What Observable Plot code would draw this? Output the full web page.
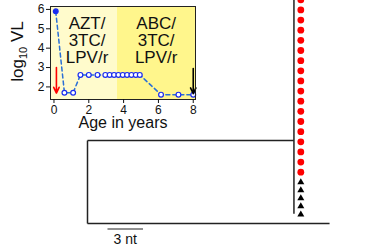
<!DOCTYPE html>
<html>
<head>
<meta charset="utf-8">
<script src="https://cdn.jsdelivr.net/npm/d3@7"></script>
<script src="https://cdn.jsdelivr.net/npm/@observablehq/plot@0.6"></script>
<style>
  html, body { margin: 0; padding: 0; background: white; }
  #wrap { position: relative; width: 372px; height: 250px; overflow: hidden; }
  #wrap > svg { position: absolute; left: 0; top: 0; }
</style>
</head>
<body>
<div id="wrap"></div>
<script>
// ---- Inset: viral load over time ----
const ageYears = [0.1, 0.6, 1.1, 1.52, 2.0, 2.5, 2.95, 3.2, 3.45, 3.7, 3.95, 4.2, 4.45, 4.7, 4.93, 6.15, 7.15, 8.0];
const log10VL  = [5.9, 1.7, 1.7, 2.62, 2.62, 2.62, 2.62, 2.62, 2.62, 2.62, 2.62, 2.62, 2.62, 2.62, 2.62, 1.6, 1.6, 1.6];
const regimenLabels = ["AZT/\n3TC/\nLPV/r", "ABC/\n3TC/\nLPV/r"];
const regimenStart  = [-0.2, 3.65];
const regimenEnd    = [3.65, 8.13];
const regimenColors = ["#fffbcc", "#fff68c"];
const regimenLabelX = [1.9, 5.87];
const regimenLabelY = [4.39, 4.39];
const arrowX    = [0.14, 8.0];
const arrowFrom = [3.0, 2.95];
const arrowTo   = [1.68, 1.65];
const arrowColors = ["#ff0000", "#000000"];
const xTicks = [0, 2, 4, 6, 8];
const yTicks = [2, 3, 4, 5, 6];

// ---- Tree ----
const redTipRows   = [0,1,2,3,4,5,6,7,8,9,10,11,12,13,14,15,16,17];
const blackTipRows = [18.0, 18.78, 19.56, 20.36, 21.17];
const rootX = 0, cladeX = 17.45, outgroupX = 20.46, tipX = 18.03; // nt
const cladeRow = 13.88, outgroupRow = 22.06, cladeTopRow = -1, cladeBottomRow = 21.1;
const scaleBarStart = 1.69, scaleBarLength = 3, scaleBarRow = 22.6, scaleLabelRow = 23.6;
const scaleLabel = "3 nt";

const font = "'Liberation Sans', Arial, Helvetica, sans-serif";

const vl = ageYears.map((a, i) => ({age: a, vl: log10VL[i], first: i === 0}));
const regimens = regimenLabels.map((l, i) => ({label: l, x1: regimenStart[i], x2: regimenEnd[i], fill: regimenColors[i], lx: regimenLabelX[i], ly: regimenLabelY[i]}));
const arrows = arrowX.map((x, i) => ({x, y1: arrowFrom[i], y2: arrowTo[i], c: arrowColors[i]}));

const branches = [
  {x1: rootX, y1: cladeRow, x2: cladeX, y2: cladeRow},
  {x1: rootX, y1: outgroupRow, x2: outgroupX, y2: outgroupRow},
  {x1: rootX, y1: cladeRow, x2: rootX, y2: outgroupRow},
  {x1: cladeX, y1: cladeTopRow, x2: cladeX, y2: cladeBottomRow}
];

const tree = Plot.plot({
  width: 372, height: 250,
  marginLeft: 0, marginRight: 0, marginTop: 0, marginBottom: 0,
  style: {fontFamily: font, background: "white"},
  x: {domain: [-7.354, 24.09], axis: null},
  y: {domain: [0.069, 24.72], reverse: true, axis: null},
  marks: [
    Plot.link(branches, {x1: "x1", y1: "y1", x2: "x2", y2: "y2", stroke: "#222", strokeWidth: 1.5}),
    Plot.dot(redTipRows, {x: () => tipX, y: d => d, r: 3.4, fill: "#ff0000", stroke: "none"}),
    Plot.dot(blackTipRows, {x: () => tipX, y: d => d, r: 2.6, symbol: "triangle", fill: "#000", stroke: "none"}),
    Plot.link([0], {x1: () => scaleBarStart, x2: () => scaleBarStart + scaleBarLength, y1: () => scaleBarRow, y2: () => scaleBarRow, stroke: "#222", strokeWidth: 1.2}),
    Plot.text([scaleLabel], {x: () => scaleBarStart + scaleBarLength / 2, y: () => scaleLabelRow, text: d => d, fontSize: 14, fill: "#111"})
  ]
});

const inset = Plot.plot({
  width: 200, height: 135,
  marginLeft: 50, marginRight: 5, marginTop: 6, marginBottom: 36,
  style: {fontFamily: font, fontSize: "12px", background: "transparent", overflow: "visible", color: "#111"},
  x: {domain: [-0.2, 8.13]},
  y: {domain: [1.35, 6.15]},
  marks: [
    Plot.rect(regimens, {x1: "x1", x2: "x2", y1: () => 1.35, y2: () => 6.15, fill: "fill"}),
    Plot.text(regimens, {x: "lx", y: "ly", text: "label", fontSize: 17, lineHeight: 1, fill: "#111"}),
    Plot.line(vl, {x: "age", y: "vl", stroke: "#2a6fd6", strokeWidth: 1.5, strokeDasharray: "4,3"}),
    Plot.dot(vl, {x: "age", y: "vl", r: 2.4, stroke: "#1a2cf0", strokeWidth: 1.2, fill: d => d.first ? "#1a2cf0" : "white"}),
    Plot.arrow(arrows, {x1: "x", x2: "x", y1: "y1", y2: "y2", stroke: "c", strokeWidth: 1.6, headLength: 6, headAngle: 50}),
    Plot.frame({stroke: "#222", strokeWidth: 1}),
    Plot.axisX({ticks: xTicks, tickFormat: d3.format("d"), tickSize: 4, tickPadding: 2, label: null}),
    Plot.axisY({ticks: yTicks, tickFormat: d3.format("d"), tickSize: 4, tickPadding: 2, label: null}),
    Plot.text(["Age in years"], {frameAnchor: "bottom", lineAnchor: "middle", dy: 23, text: d => d, fontSize: 16, fill: "#111"})
  ]
});

// y-axis label with subscript
const ns = "http://www.w3.org/2000/svg";
const lab = document.createElementNS(ns, "text");
lab.setAttribute("transform", "translate(22.5,51.5) rotate(-90)");
lab.setAttribute("text-anchor", "middle");
lab.setAttribute("font-size", "17");
lab.setAttribute("font-family", font);
lab.setAttribute("fill", "#111");
const t1 = document.createElementNS(ns, "tspan"); t1.textContent = "log";
const t2 = document.createElementNS(ns, "tspan"); t2.textContent = "10"; t2.setAttribute("font-size", "11"); t2.setAttribute("dy", "4");
const t3 = document.createElementNS(ns, "tspan"); t3.textContent = " VL"; t3.setAttribute("dy", "-4");
lab.appendChild(t1); lab.appendChild(t2); lab.appendChild(t3);
inset.appendChild(lab);

const wrap = document.getElementById("wrap");
wrap.appendChild(tree);
wrap.appendChild(inset);
</script>
</body>
</html>
